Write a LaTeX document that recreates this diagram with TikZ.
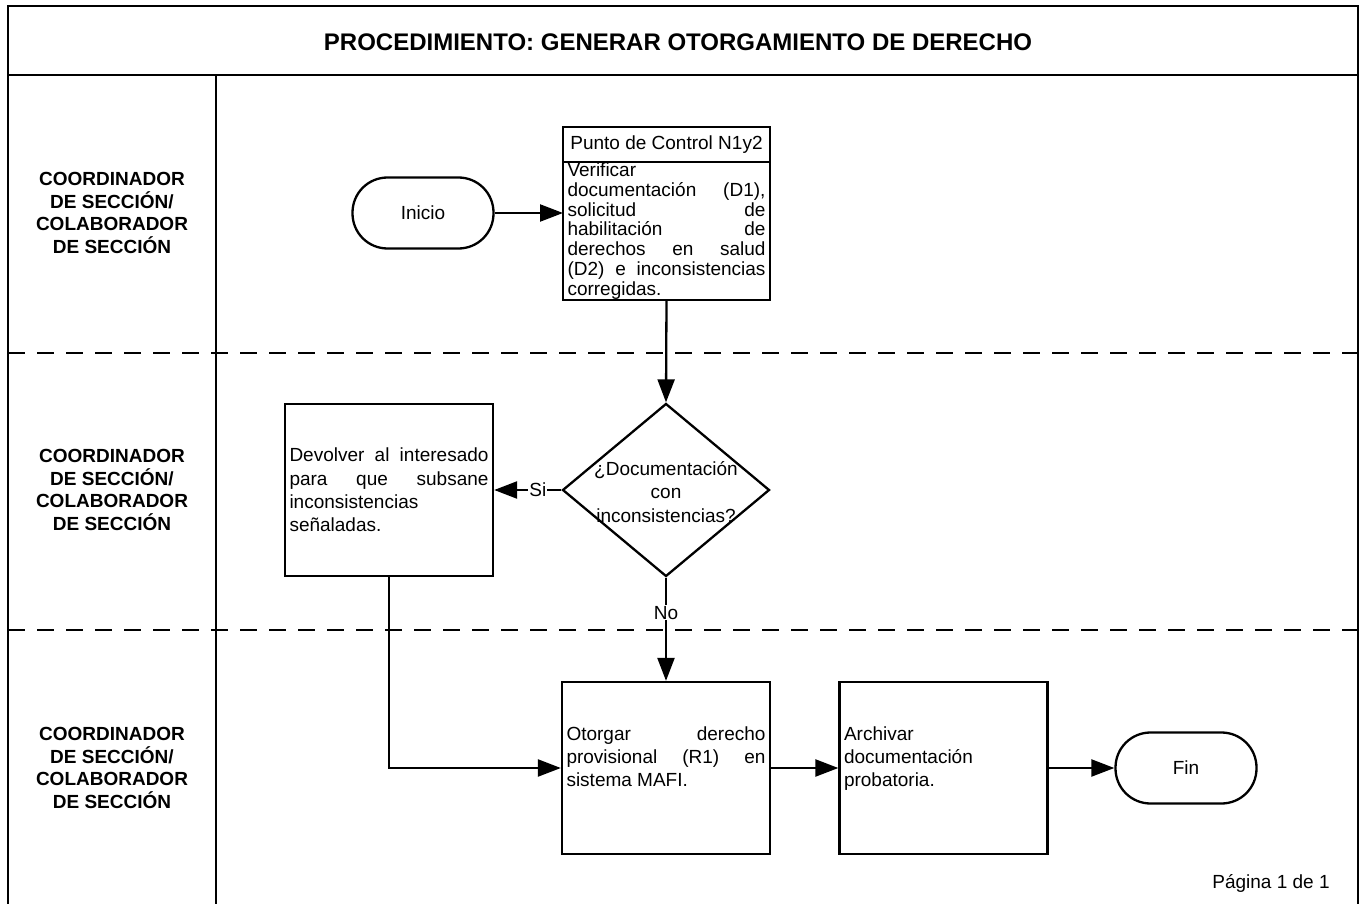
\documentclass[tikz,border=0pt]{standalone}
\usepackage{fontspec}
\setmainfont{Liberation Sans}
\usetikzlibrary{arrows.meta,shapes.geometric}
\hyphenpenalty=10000
\hbadness=10000
\begin{document}
\begin{tikzpicture}[x=1pt,y=-1pt,
  frame/.style={line width=2.5pt},
  lanesep/.style={line width=2.2pt, dash pattern=on 17pt off 12pt},
  lanelabel/.style={font=\bfseries\fontsize{19pt}{22.5pt}\selectfont, align=center},
  txt/.style={font=\fontsize{19pt}{23pt}\selectfont},
  procbox/.style={draw, rectangle, line width=2.3pt, minimum width=208pt, minimum height=172pt,
    text width=199pt, inner xsep=4.5pt, inner ysep=0pt, align=justify, txt},
  term/.style={draw, rectangle, rounded corners=35pt, line width=2.3pt,
    minimum width=141pt, minimum height=71pt, txt},
  flow/.style={-{Triangle[length=23pt,width=17pt]}, line width=2.3pt},
  branch/.style={fill=white, inner sep=1pt, txt}
]
\useasboundingbox (0,0) rectangle (1363,904);

% sheet frame, header band and role column
\draw[frame] (8,904) -- (8,6) -- (1358,6) -- (1358,904);
\draw[frame] (8,75) -- (1358,75);
\draw[frame] (216,75) -- (216,904);

% swimlane separators
\draw[lanesep] (8,353) -- (1358,353);
\draw[lanesep] (8,630) -- (1358,630);

% title
\node[font=\bfseries\fontsize{24pt}{28pt}\selectfont] (title) at (678,42)
  {PROCEDIMIENTO: GENERAR OTORGAMIENTO DE DERECHO};

% role labels
\node[lanelabel] (role1) at (112,213) {COORDINADOR\\DE SECCIÓN/\\COLABORADOR\\DE SECCIÓN};
\node[lanelabel] (role2) at (112,490) {COORDINADOR\\DE SECCIÓN/\\COLABORADOR\\DE SECCIÓN};
\node[lanelabel] (role3) at (112,768) {COORDINADOR\\DE SECCIÓN/\\COLABORADOR\\DE SECCIÓN};

% lane 1
\node[term] (inicio) at (423,213) {Inicio};
\node[draw, rectangle, line width=2.3pt, minimum width=207pt, minimum height=35pt,
  inner sep=0pt, outer sep=0pt, txt] (pchead) at (666.5,144.5) {Punto de Control N1y2};
\node[draw, rectangle, line width=2.3pt, minimum width=207pt, minimum height=138pt,
  text width=198pt, inner xsep=4.5pt, inner ysep=0pt, outer sep=0pt, align=justify,
  font=\fontsize{19pt}{19.8pt}\selectfont, anchor=north] (pcbody) at (pchead.south)
  {Verificar\linebreak documentación (D1),\linebreak solicitud de\linebreak
   habilitación de\linebreak derechos en salud\linebreak
   (D2) e inconsistencias\linebreak corregidas.};

% lane 2
\node[draw, diamond, line width=2.3pt, minimum width=207pt, minimum height=173pt,
  inner sep=0pt] (dec) at (666,490) {};
\node[txt, align=center, font=\fontsize{19pt}{23.5pt}\selectfont] (dectext) at (666,492)
  {¿Documentación\\con\\inconsistencias?};
\node[procbox, font=\fontsize{19pt}{23.3pt}\selectfont] (dev) at (389,490)
  {Devolver al interesado\linebreak para que subsane\linebreak inconsistencias\linebreak señaladas.};

% lane 3 (text sits above the box centre, hence the empty closing line)
\node[procbox] (oto) at (666,768)
  {Otorgar derecho\linebreak provisional (R1) en\linebreak sistema MAFI.\par\mbox{}};
\node[procbox] (arc) at (943.5,768)
  {Archivar\linebreak documentación\linebreak probatoria.\par\mbox{}};
\node[term] (fin) at (1186,768) {Fin};

% connectors
\draw[flow] (inicio.east) -- (inicio.east -| pcbody.west);
\draw[flow] (pcbody.south) -- (dec.north);
\draw[flow] (dec.west) -- node[branch, pos=0.35] {Si} (dev.east);
\draw[flow] (dec.south) -- node[branch, pos=0.34] {No} (oto.north);
\draw[flow] (dev.south) |- (oto.west);
\draw[flow] (oto.east) -- (arc.west);
\draw[flow] (arc.east) -- (fin.west);

% page number
\node[txt] (page) at (1271,883) {Página 1 de 1};
\end{tikzpicture}
\end{document}
